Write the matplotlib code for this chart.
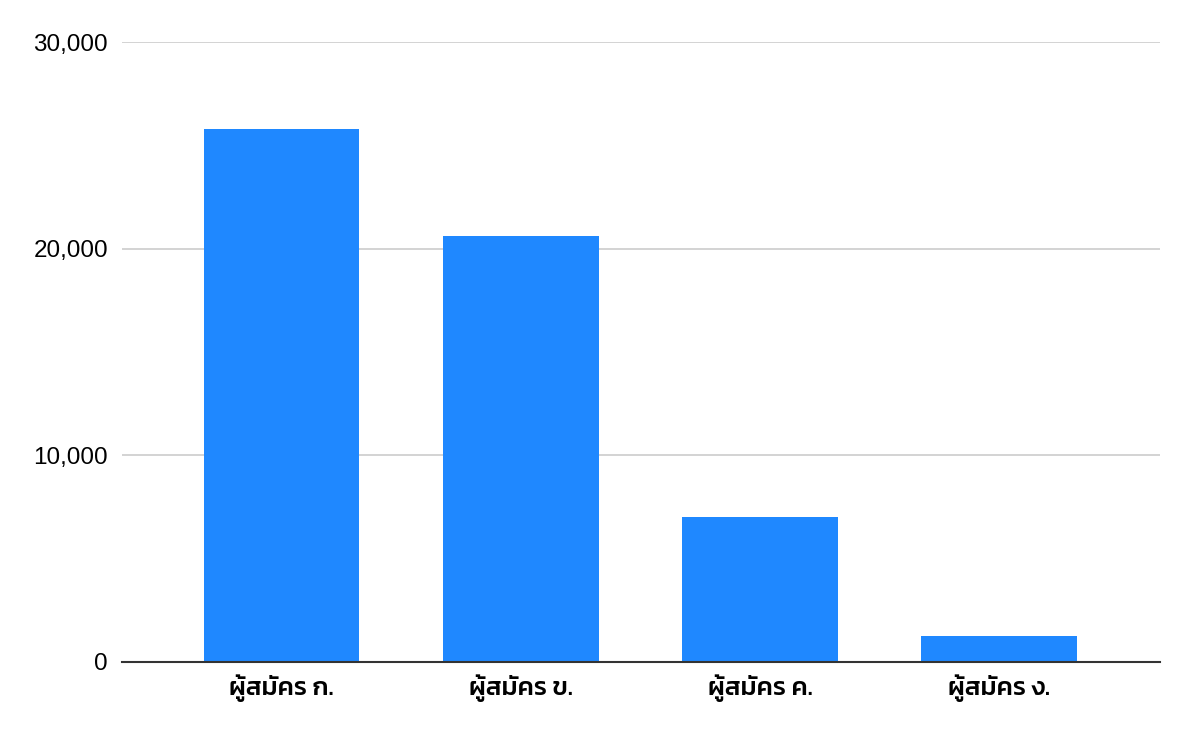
import matplotlib
matplotlib.use("Agg")
import matplotlib.pyplot as plt
from matplotlib.ticker import FuncFormatter

categories = ["ผู้สมัคร ก.", "ผู้สมัคร ข.", "ผู้สมัคร ค.", "ผู้สมัคร ง."]
values = [25800, 20600, 7000, 1250]
yticks = [0, 10000, 20000, 30000]

plt.rcParams['font.family'] = ['Liberation Sans', 'DejaVu Sans']
fig = plt.figure(figsize=(11.96, 7.36), dpi=100)
ax = fig.add_axes([122/1196, 1-662/736, (1160-122)/1196, (662-42)/736])

x = list(range(len(categories)))
ax.bar(x, values, width=0.65, color="#1f88ff", zorder=3)
ax.set_xlim(-0.667, 3.672)
ax.set_ylim(0, 30000)
ax.set_yticks(yticks)
ax.yaxis.set_major_formatter(FuncFormatter(lambda v, p: f"{int(v):,}"))
ax.grid(axis='y', color='#cccccc', linewidth=1.2, zorder=0)
for s in ['top', 'right', 'left']:
    ax.spines[s].set_visible(False)
ax.spines['bottom'].set_color('#333333')
ax.spines['bottom'].set_linewidth(1.5)
ax.spines['bottom'].set_zorder(4)
ax.tick_params(axis='both', length=0, colors='black')
ax.tick_params(axis='y', pad=10, labelsize=17.5)
ax.tick_params(axis='x', pad=9)
ax.set_xticks(x)
ax.set_xticklabels(categories, family=['Kanit', 'DejaVu Sans'],
                   fontweight=500, fontsize=18.5)
fig.savefig("out.png", dpi=100, facecolor="white")
